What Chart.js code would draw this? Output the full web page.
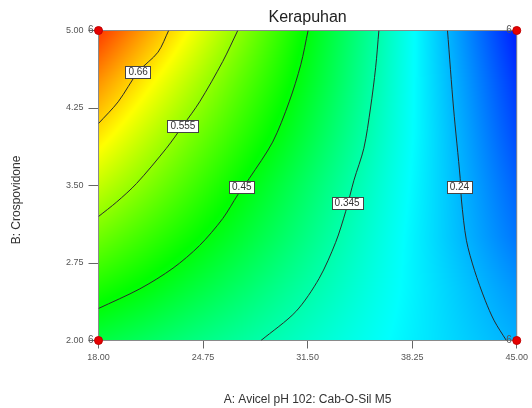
<!DOCTYPE html>
<html>
<head>
<meta charset="utf-8">
<script src="https://cdn.jsdelivr.net/npm/chart.js@4.4.1/dist/chart.umd.min.js"></script>
<style>
  html, body { margin: 0; padding: 0; background: #fff; }
</style>
</head>
<body>
<canvas id="chart" width="532" height="408"></canvas>
<script>
// axis ticks
var xTicks = [18, 24.75, 31.5, 38.25, 45];
var yTicks = [2, 2.75, 3.5, 4.25, 5];

// response surface (rows = B, columns = A)
var gridA = [18, 21, 24, 27, 30, 33, 36, 39, 42, 45];
var gridB = [2, 2.5, 3, 3.5, 4, 4.5, 5];
var rowB200 = [0.413, 0.394, 0.374, 0.355, 0.335, 0.315, 0.295, 0.275, 0.255, 0.236];
var rowB250 = [0.472, 0.447, 0.418, 0.390, 0.361, 0.333, 0.304, 0.276, 0.247, 0.218];
var rowB300 = [0.531, 0.496, 0.461, 0.425, 0.388, 0.350, 0.312, 0.274, 0.235, 0.196];
var rowB350 = [0.590, 0.546, 0.501, 0.456, 0.411, 0.366, 0.321, 0.276, 0.230, 0.182];
var rowB400 = [0.648, 0.593, 0.540, 0.490, 0.440, 0.386, 0.332, 0.278, 0.223, 0.166];
var rowB450 = [0.703, 0.642, 0.581, 0.521, 0.464, 0.403, 0.340, 0.277, 0.215, 0.152];
var rowB500 = [0.766, 0.696, 0.626, 0.555, 0.485, 0.415, 0.347, 0.276, 0.205, 0.134];
var surface = [rowB200, rowB250, rowB300, rowB350, rowB400, rowB450, rowB500];

// colour key: blue, cyan, green, yellow, red
var colourStops = [0.115, 0.29, 0.455, 0.63, 0.805];

// contour lines [A, B]
var contourLevels = ['0.66', '0.555', '0.45', '0.345', '0.24'];
var contour066 = [[22.53, 5.0], [21.84, 4.79], [20.56, 4.60], [19.27, 4.31], [18.0, 4.10]];
var contour0555 = [[26.99, 5.0], [26.02, 4.70], [24.53, 4.31], [23.45, 4.08], [22.38, 3.86],
                   [20.46, 3.52], [19.17, 3.34], [18.0, 3.20]];
var contour045 = [[31.53, 5.0], [31.06, 4.67], [30.31, 4.31], [29.24, 3.92], [27.74, 3.57],
                  [26.99, 3.41], [26.02, 3.18], [24.53, 2.92], [22.81, 2.70], [20.67, 2.50], [18.0, 2.31]];
var contour0345 = [[36.10, 5.0], [35.89, 4.64], [35.56, 4.25], [35.13, 3.86], [34.49, 3.55],
                   [33.96, 3.25], [33.31, 2.95], [32.24, 2.60], [30.74, 2.28], [28.49, 2.0]];
var contour024 = [[40.53, 5.0], [40.92, 4.25], [41.35, 3.57], [41.43, 3.36], [41.75, 2.97],
                  [42.27, 2.68], [42.96, 2.39], [43.55, 2.19], [44.33, 2.0]];
var contours = [contour066, contour0555, contour045, contour0345, contour024];
var labelA = [20.56, 23.45, 27.25, 34.05, 41.3];
var labelB = [4.60, 4.08, 3.49, 3.33, 3.49];

// design points
var designA = [18, 18, 45, 45];
var designB = [2, 5, 2, 5];
var designCount = ['6', '6', '6', '6'];

var FONT = '"Liberation Sans", Arial, sans-serif';

function rainbow(v) {
    var cols = [[0, 0, 255], [0, 255, 255], [0, 255, 0], [255, 255, 0], [255, 0, 0]];
    if (v <= colourStops[0]) return cols[0];
    if (v >= colourStops[4]) return cols[4];
    var i = 0;
    while (i < 3 && v > colourStops[i + 1]) i++;
    var f = (v - colourStops[i]) / (colourStops[i + 1] - colourStops[i]);
    var a = cols[i], b = cols[i + 1];
    return [a[0] + (b[0] - a[0]) * f, a[1] + (b[1] - a[1]) * f, a[2] + (b[2] - a[2]) * f];
}

function locate(arr, v) {
    for (var i = 0; i < arr.length - 2; i++) {
        if (v < arr[i + 1]) break;
    }
    var f = (v - arr[i]) / (arr[i + 1] - arr[i]);
    return [i, Math.max(0, Math.min(1, f))];
}

var surfacePlugin = {
    id: 'surface',
    beforeDatasetsDraw: function (chart) {
        var area = chart.chartArea;
        var xs = chart.scales.x, ys = chart.scales.y;
        var w = Math.round(area.right - area.left), h = Math.round(area.bottom - area.top);
        var off = document.createElement('canvas');
        off.width = w; off.height = h;
        var octx = off.getContext('2d');
        var img = octx.createImageData(w, h);
        for (var j = 0; j < h; j++) {
            var bv = ys.getValueForPixel(area.top + j + 0.5);
            var lb = locate(gridB, bv);
            for (var i = 0; i < w; i++) {
                var av = xs.getValueForPixel(area.left + i + 0.5);
                var la = locate(gridA, av);
                var r0 = surface[lb[0]], r1 = surface[lb[0] + 1];
                var v0 = r0[la[0]] + (r0[la[0] + 1] - r0[la[0]]) * la[1];
                var v1 = r1[la[0]] + (r1[la[0] + 1] - r1[la[0]]) * la[1];
                var c = rainbow(v0 + (v1 - v0) * lb[1]);
                var k = (j * w + i) * 4;
                img.data[k] = c[0]; img.data[k + 1] = c[1]; img.data[k + 2] = c[2]; img.data[k + 3] = 255;
            }
        }
        octx.putImageData(img, 0, 0);
        var ctx = chart.ctx;
        ctx.save();
        ctx.drawImage(off, area.left, area.top);
        ctx.strokeStyle = '#8a8a8a';
        ctx.lineWidth = 1;
        ctx.strokeRect(area.left, area.top, area.right - area.left, area.bottom - area.top);
        ctx.restore();
    },
    afterDatasetsDraw: function (chart) {
        var ctx = chart.ctx;
        var xs = chart.scales.x, ys = chart.scales.y;
        ctx.save();
        // contour labels
        ctx.font = '10px ' + FONT;
        ctx.textAlign = 'center';
        ctx.textBaseline = 'middle';
        for (var i = 0; i < contourLevels.length; i++) {
            var px = xs.getPixelForValue(labelA[i]), py = ys.getPixelForValue(labelB[i]);
            var tw = ctx.measureText(contourLevels[i]).width + 6;
            ctx.fillStyle = '#fff';
            ctx.fillRect(Math.round(px - tw / 2) + 0.5, Math.round(py - 6) + 0.5, Math.round(tw), 12);
            ctx.strokeStyle = '#444';
            ctx.lineWidth = 1;
            ctx.strokeRect(Math.round(px - tw / 2) + 0.5, Math.round(py - 6) + 0.5, Math.round(tw), 12);
            ctx.fillStyle = '#333';
            ctx.fillText(contourLevels[i], px, py + 0.5);
        }
        // replicate counts next to design points
        ctx.font = '10px ' + FONT;
        ctx.textAlign = 'right';
        ctx.fillStyle = '#555';
        for (var d = 0; d < designA.length; d++) {
            ctx.fillText(designCount[d], xs.getPixelForValue(designA[d]) - 5, ys.getPixelForValue(designB[d]));
        }
        ctx.restore();
    },
    afterDraw: function (chart) {
        var ctx = chart.ctx, area = chart.chartArea;
        var cx = (area.left + area.right) / 2;
        ctx.save();
        ctx.fillStyle = '#222';
        ctx.textAlign = 'center';
        ctx.textBaseline = 'middle';
        ctx.font = '16px ' + FONT;
        ctx.fillText('Kerapuhan', cx, 18);
        ctx.fillStyle = '#333';
        ctx.font = '12px ' + FONT;
        ctx.fillText('A: Avicel pH 102: Cab-O-Sil M5', cx, 400);
        ctx.translate(17, 200);
        ctx.rotate(-Math.PI / 2);
        ctx.fillText('B: Crospovidone', 0, 0);
        ctx.restore();
    }
};

var contourSets = contours.map(function (c, i) {
    return {
        label: contourLevels[i],
        data: c.map(function (p) { return { x: p[0], y: p[1] }; }),
        showLine: true,
        borderColor: '#2b2b2b',
        borderWidth: 1,
        pointRadius: 0,
        tension: 0.3,
        fill: false
    };
});

var designSet = {
    label: 'Design points',
    data: designA.map(function (a, i) { return { x: a, y: designB[i] }; }),
    pointRadius: 4,
    pointBackgroundColor: '#e60000',
    pointBorderColor: '#c00000',
    pointBorderWidth: 1,
    showLine: false,
    clip: false
};

new Chart(document.getElementById('chart').getContext('2d'), {
    type: 'scatter',
    data: { datasets: contourSets.concat([designSet]) },
    options: {
        responsive: false,
        animation: false,
        layout: { padding: { top: 30.5, right: 13.5, left: 0, bottom: 0 } },
        plugins: {
            legend: { display: false },
            tooltip: { enabled: false },
            title: { display: false }
        },
        scales: {
            x: {
                type: 'linear',
                min: 18,
                max: 45,
                afterBuildTicks: function (s) { s.ticks = xTicks.map(function (v) { return { value: v }; }); },
                afterFit: function (s) { s.height = 67.5; },
                ticks: {
                    autoSkip: false,
                    maxRotation: 0,
                    padding: 4,
                    color: '#555',
                    font: { size: 9, family: FONT },
                    callback: function (v) { return Number(v).toFixed(2); }
                },
                grid: { drawOnChartArea: false, tickLength: 8, tickColor: '#666' },
                border: { color: '#8a8a8a' }
            },
            y: {
                type: 'linear',
                min: 2,
                max: 5,
                afterBuildTicks: function (s) { s.ticks = yTicks.map(function (v) { return { value: v }; }); },
                afterFit: function (s) { s.width = 98.5; },
                ticks: {
                    autoSkip: false,
                    padding: 5,
                    color: '#555',
                    font: { size: 9, family: FONT },
                    callback: function (v) { return Number(v).toFixed(2); }
                },
                grid: { drawOnChartArea: false, tickLength: 10, tickColor: '#666' },
                border: { color: '#8a8a8a' }
            }
        }
    },
    plugins: [surfacePlugin]
});
</script>
</body>
</html>
